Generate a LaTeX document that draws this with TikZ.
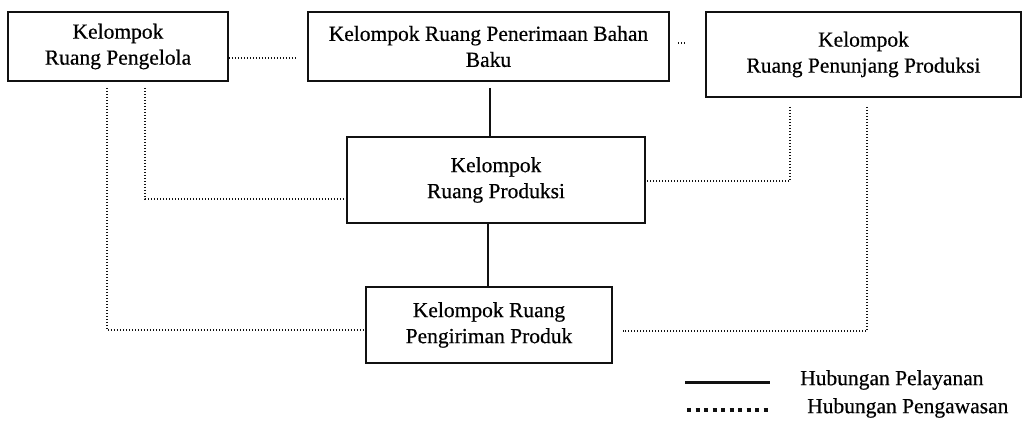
\documentclass[tikz,border=0pt]{standalone}
\usepackage{fontspec}
\setmainfont[FakeBold=0.5,AutoFakeBold=0.5]{Liberation Serif}
\usepackage{xcolor}
\usetikzlibrary{positioning,calc}
\definecolor{ink}{HTML}{111111}
\tikzset{
  ruang/.style={draw=ink,line width=1.7pt,align=center,inner sep=3pt,
                font=\fontsize{21.5}{26}\selectfont\bfseries},
  layan/.style={draw=ink,line width=2pt},
  awas/.style={draw=ink,line width=1.2pt,dash pattern=on 1.2pt off 1.8pt},
  awasleg/.style={draw=ink,line width=3.5pt,dash pattern=on 4pt off 4.5pt},
  legtext/.style={anchor=west,inner sep=0pt,font=\fontsize{21.5}{26}\selectfont\bfseries}
}

\begin{document}
\begin{tikzpicture}[x=1pt,y=-1pt]
  \useasboundingbox (0,0) rectangle (1030,421);

  % kelompok ruang
  \node[ruang,minimum width=220pt,minimum height=69pt] (pengelola) at (118,46.5) {Kelompok\\Ruang Pengelola};
  \node[ruang,minimum width=361pt,minimum height=69pt] (terima) at (488.5,46.5) {Kelompok Ruang Penerimaan Bahan\\Baku};
  \node[ruang,minimum width=315pt,minimum height=85pt] (tunjang) at (863.5,54.5) {Kelompok\\Ruang Penunjang Produksi};
  \node[ruang,minimum width=298pt,minimum height=86pt] (produksi) at (496,180) {Kelompok\\Ruang Produksi};
  \node[ruang,minimum width=246pt,minimum height=76pt] (kirim) at (489,325) {Kelompok Ruang\\Pengiriman Produk};

  % hubungan pelayanan
  \draw[layan,shorten <=6pt] ([xshift=1.5pt]terima.south) -- ([xshift=-6pt]produksi.north);
  \draw[layan] ([xshift=-8pt]produksi.south) -- ([xshift=-1pt]kirim.north);

  % hubungan pengawasan
  \draw[awas,shorten >=11pt] ([yshift=-11.5pt]pengelola.east) -- ([yshift=-11.5pt]terima.west);
  \draw[awas,shorten <=8pt,shorten >=19pt] ([yshift=3.5pt]terima.east) -- ([yshift=11.5pt]tunjang.west);
  \draw[awas,shorten <=6pt] ([xshift=27pt]pengelola.south) |- ([yshift=-19pt]produksi.west);
  \draw[awas,shorten <=6pt] ([xshift=-11pt]pengelola.south) |- ([yshift=-5pt]kirim.west);
  \draw[awas,shorten <=9pt] ([xshift=-73.5pt]tunjang.south) |- ([yshift=-1pt]produksi.east);
  \draw[awas,shorten <=9pt,shorten >=10pt] ([xshift=3.5pt]tunjang.south) |- ([yshift=-6pt]kirim.east);

  % keterangan
  \coordinate (l1a) at (685,382);
  \coordinate (l1b) at (770,382);
  \coordinate (l2a) at (687,410);
  \coordinate (l2b) at (770,410);
  \draw[layan,line width=3pt] (l1a) -- (l1b);
  \draw[awasleg] (l2a) -- (l2b);
  \node[legtext] (ket1) at (800,380) {Hubungan Pelayanan};
  \node[legtext] (ket2) at (807,408) {Hubungan Pengawasan};
\end{tikzpicture}
\end{document}
